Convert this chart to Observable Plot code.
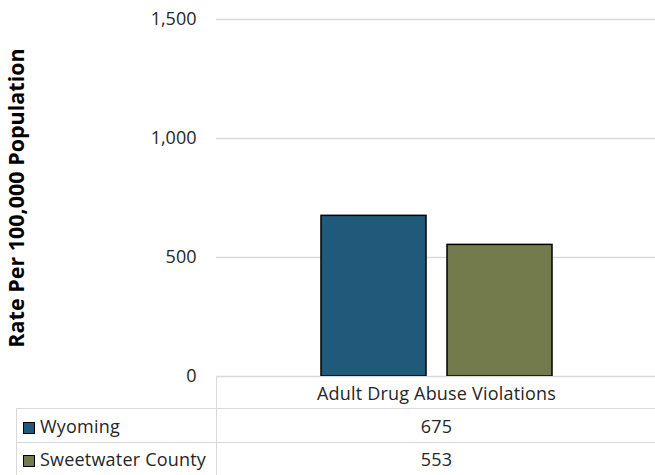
<!DOCTYPE html>
<html><head><meta charset="utf-8">
<script src="https://cdn.jsdelivr.net/npm/d3@7"></script>
<script src="https://cdn.jsdelivr.net/npm/@observablehq/plot@0.6"></script>
<style>
body{margin:0;background:#fff;font-family:"Open Sans",sans-serif;}
#wrap{position:relative;width:655px;height:475px;overflow:hidden}
#wrap svg{position:absolute;left:0;top:0}
table{position:absolute;left:16px;top:376px;border-collapse:collapse;width:640px;font-size:18px;letter-spacing:0.2px;color:#262626;table-layout:fixed}
td{border:1px solid #d9d9d9;padding:0;white-space:nowrap}
td.c{text-align:center}
td.blank{border-left:none;border-top:none}
td.last{border-right:none}
col.a{width:200px}
.sw{display:inline-block;width:10px;height:10px;border:1.5px solid #000;margin:0 5px 0 6px;vertical-align:-1px}
</style></head>
<body><div id="wrap"></div>
<script>
const category = "Adult Drug Abuse Violations";
const series = ["Wyoming", "Sweetwater County"];
const values = [675, 553];
const colors = ["#1f5a7a", "#737b4c"];
const yTicks = [0, 500, 1000, 1500];
const yTitle = "Rate Per 100,000 Population";

const data = series.map((s, i) => ({series: s, value: values[i]}));

const chart = Plot.plot({
  width: 655, height: 475,
  marginLeft: 216, marginRight: 0, marginTop: 19, marginBottom: 99,
  style: {fontFamily: "Open Sans", background: "#fff"},
  x: {domain: series, paddingInner: 0.163, paddingOuter: 0.823, align: 0.506, axis: null},
  y: {domain: [0, 1500], axis: null},
  color: {domain: series, range: colors},
  marks: [
    Plot.ruleY(yTicks, {stroke: "#d9d9d9", strokeWidth: 1.5}),
    Plot.axisY(yTicks, {tickSize: 0, tickPadding: 20, fontSize: 18, tickFormat: d3.format(","), label: null, fill: "#262626"}),
    Plot.text([yTitle], {frameAnchor: "left", textAnchor: "middle", rotate: -90, dx: -199, dy: 0, fontSize: 21.5, fontWeight: "bold", fill: "#000"}),
    Plot.barY(data, {x: "series", y: "value", fill: "series", stroke: "#000", strokeWidth: 1.5})
  ]
});
const wrap = document.getElementById("wrap");
wrap.appendChild(chart);

const fmt = d3.format(",");
let html = '<colgroup><col class="a"><col></colgroup>';
html += `<tr style="height:32px"><td class="blank"></td><td class="c last">${category}</td></tr>`;
const rowH = [34, 33];
series.forEach((s, i) => {
  html += `<tr style="height:${rowH[i]}px"><td><span class="sw" style="background:${colors[i]}"></span>${s}</td><td class="c last">${fmt(values[i])}</td></tr>`;
});
const table = document.createElement("table");
table.innerHTML = html;
wrap.appendChild(table);
</script></body></html>
